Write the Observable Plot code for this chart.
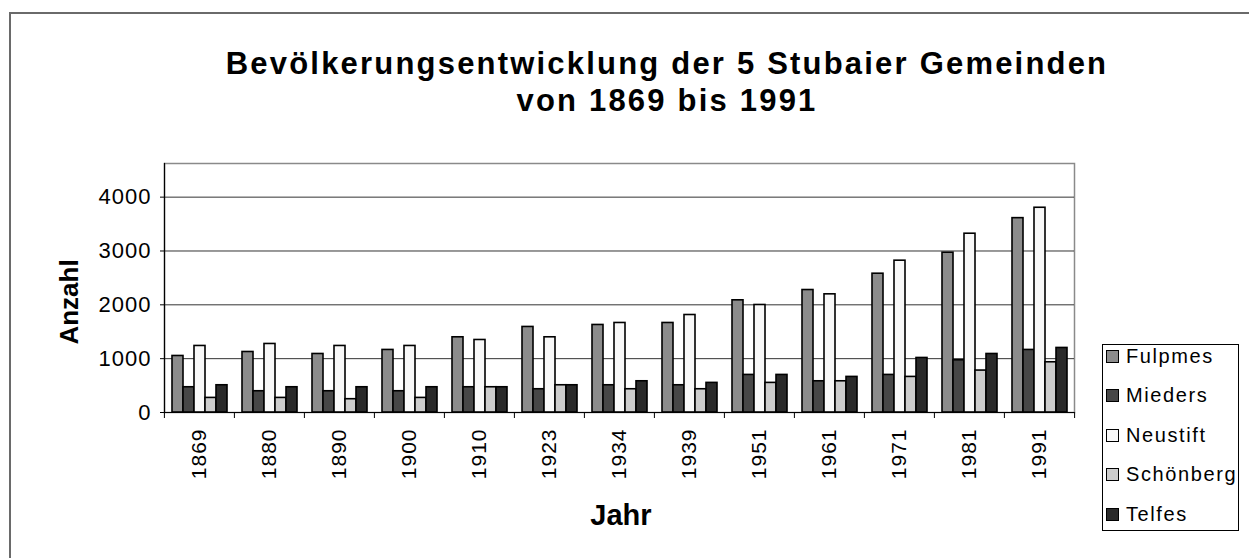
<!DOCTYPE html>
<html>
<head>
<meta charset="utf-8">
<script src="https://cdn.jsdelivr.net/npm/d3@7"></script>
<script src="https://cdn.jsdelivr.net/npm/@observablehq/plot@0.6"></script>
<style>
  html, body { margin: 0; padding: 0; background: #fff; }
  #wrap { position: relative; width: 1249px; height: 558px; overflow: hidden; font-family: "Liberation Sans", Arial, sans-serif; color: #000; }
  #outer { position: absolute; left: 9px; top: 12px; width: 1400px; height: 700px; border-left: 2px solid #6a6a6a; border-top: 2px solid #6a6a6a; }
  #chart { position: absolute; left: 0; top: 0; }
  #title { position: absolute; left: 0; top: 45px; width: 1334px; text-align: center; font-weight: bold; font-size: 31px; line-height: 37px; letter-spacing: 2.2px; }
  #ylab { position: absolute; left: 69px; top: 302px; transform: translate(-50%, -50%) rotate(-90deg); font-weight: bold; font-size: 26px; white-space: nowrap; }
  #xlab { position: absolute; left: 621px; top: 498px; transform: translateX(-50%); font-weight: bold; font-size: 29px; line-height: 34px; }
  #legend { position: absolute; left: 1102px; top: 344px; width: 137px; height: 187px; border: 1px solid #000; box-sizing: border-box; }
  .item { position: absolute; left: 3px; height: 24px; display: flex; align-items: center; font-size: 20px; letter-spacing: 1.6px; white-space: nowrap; }
  .sw { width: 11px; height: 11px; border: 1.5px solid #000; margin-right: 7px; }
</style>
</head>
<body>
<div id="wrap">
  <div id="outer"></div>
  <div id="chart"></div>
  <div id="title">Bevölkerungsentwicklung der 5 Stubaier Gemeinden<br>von 1869 bis 1991</div>
  <div id="ylab">Anzahl</div>
  <div id="xlab">Jahr</div>
  <div id="legend"></div>
</div>
<script>
const years = ["1869","1880","1890","1900","1910","1923","1934","1939","1951","1961","1971","1981","1991"];
const towns = ["Fulpmes","Mieders","Neustift","Schönberg","Telfes"];
const fulpmes    = [1050,1124,1087,1162,1397,1589,1626,1663,2084,2275,2578,2968,3610];
const mieders    = [469,395,395,395,469,432,506,506,698,580,698,970,1162];
const neustift   = [1236,1273,1236,1236,1347,1397,1663,1811,1997,2195,2820,3321,3803];
const schoenberg = [271,271,247,271,469,506,432,432,550,580,661,779,933];
const telfes     = [506,469,469,469,469,506,580,550,698,661,1013,1087,1199];
const colors = ["#8c8c8c","#474747","#f8f8f8","#cccccc","#2a2a2a"];
const yTicks = [0,1000,2000,3000,4000];

const series = [fulpmes, mieders, neustift, schoenberg, telfes];
const data = [];
years.forEach((yr, i) => towns.forEach((t, j) => data.push({year: yr, town: t, value: series[j][i]})));

const chart = Plot.plot({
  width: 1249,
  height: 558,
  marginLeft: 162,
  marginRight: 174,
  marginTop: 163,
  marginBottom: 146,
  style: {fontFamily: "'Liberation Sans', Arial, sans-serif", background: "transparent", color: "#000", letterSpacing: "1px"},
  fx: {domain: years, padding: 0, label: null},
  x: {domain: towns, paddingInner: 0, paddingOuter: 0.65, axis: null},
  y: {domain: [0, 4625], label: null},
  color: {domain: towns, range: colors},
  marks: [
    Plot.frame({facet: "super", stroke: "#8a8a8a", strokeWidth: 1.5}),
    Plot.gridY(yTicks.slice(1), {stroke: "#333", strokeOpacity: 1, strokeWidth: 1}),
    Plot.barY(data, {fx: "year", x: "town", y: "value", fill: "town", stroke: "#000", strokeWidth: 1.6}),
    Plot.ruleY([0], {stroke: "#000", strokeWidth: 1.2}),
    Plot.frame({anchor: "left", facetAnchor: "left", stroke: "#000", strokeWidth: 1.2}),
    Plot.axisY({ticks: yTicks, tickSize: 4, tickPadding: 9, fontSize: 22, tickFormat: d => String(d), label: null}),
    Plot.axisFx({anchor: "bottom", tickSize: 0, tickRotate: -90, tickPadding: 16, fontSize: 21, label: null}),
    Plot.axisFx({anchor: "bottom", tickSize: 6, tickFormat: () => "", dx: -35.1, label: null}),
    Plot.axisFx({anchor: "bottom", ticks: [years[years.length - 1]], tickSize: 6, tickFormat: () => "", dx: 35.1, label: null})
  ]
});
document.getElementById("chart").appendChild(chart);

const legend = document.getElementById("legend");
towns.forEach((t, j) => {
  const item = document.createElement("div");
  item.className = "item";
  item.style.top = (j * 39.5 - 1) + "px";
  const sw = document.createElement("div");
  sw.className = "sw";
  sw.style.background = colors[j];
  const label = document.createElement("span");
  label.textContent = t;
  item.appendChild(sw);
  item.appendChild(label);
  legend.appendChild(item);
});
</script>
</body>
</html>
